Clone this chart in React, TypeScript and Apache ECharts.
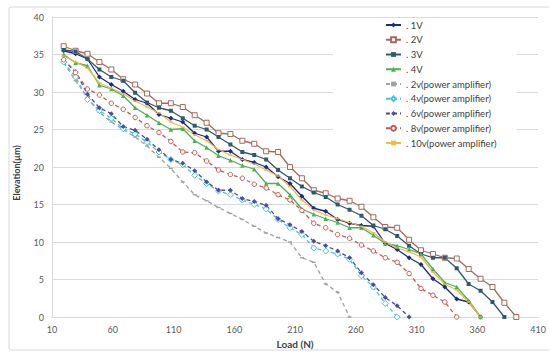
import React, { useEffect, useRef } from "react";
import * as echarts from "echarts";

const loads = [19.6, 29.4, 39.2, 49, 58.8, 68.6, 78.4, 88.2, 98, 107.8, 117.6, 127.4, 137.2, 147, 156.8, 166.6, 176.4, 186.2, 196, 205.8, 215.6, 225.4, 235.2, 245, 254.8, 264.6, 274.4, 284.2, 294, 303.8, 313.6, 323.4, 333.2, 343, 352.8, 362.6, 372.4, 382.2, 392];

const v1 = [35.5, 35.1, 34.4, 32.0, 31.0, 30.1, 29.0, 28.5, 27.0, 26.5, 26.0, 24.5, 24.0, 22.1, 22.1, 21.0, 20.6, 20.0, 18.7, 17.8, 16.1, 14.5, 14.1, 13.0, 12.5, 12.2, 12.1, 9.8, 9.0, 7.9, 7.0, 5.1, 4.0, 2.4, 2.0, 0];
const v2 = [36.1, 35.5, 35.1, 34.0, 33.0, 31.7, 31.0, 29.8, 28.5, 28.5, 28.0, 26.9, 25.9, 24.5, 24.4, 23.5, 23.1, 22.1, 22.0, 20.0, 18.5, 16.9, 16.5, 15.8, 15.5, 14.7, 13.3, 12.0, 11.9, 10.3, 8.9, 8.4, 7.9, 7.8, 6.4, 5.1, 4.0, 1.9, 0];
const v3 = [35.6, 35.4, 34.4, 33.0, 32.0, 31.5, 29.9, 28.6, 27.9, 27.5, 26.5, 25.5, 25.0, 24.0, 23.0, 22.0, 21.6, 21.0, 19.6, 18.5, 17.4, 16.6, 16.0, 15.0, 14.3, 13.5, 12.2, 11.7, 10.8, 9.5, 8.4, 7.9, 7.9, 6.5, 4.4, 3.5, 2.0, 0];
const v4 = [35.0, 33.9, 33.5, 30.9, 30.4, 29.5, 27.9, 26.9, 25.9, 25.0, 25.1, 23.5, 22.6, 21.5, 20.9, 20.2, 19.7, 17.8, 17.8, 16.3, 14.4, 13.7, 13.1, 12.6, 11.9, 11.9, 10.9, 9.8, 9.5, 9.0, 8.4, 6.4, 4.6, 4.0, 2.2, 0];
const pa2 = [33.9, 31.5, 29.3, 27.3, 26.0, 25.0, 24.0, 22.8, 21.3, 19.8, 18.0, 16.3, 15.5, 14.6, 13.8, 13.0, 12.1, 11.2, 10.6, 10.0, 7.9, 7.3, 4.4, 3.3, 0];
const pa4 = [34.0, 32.0, 29.0, 27.5, 26.5, 25.1, 24.4, 23.3, 22.0, 21.0, 20.3, 18.9, 17.8, 16.8, 16.3, 15.6, 15.0, 14.4, 13.0, 11.9, 11.0, 9.2, 8.8, 8.4, 7.7, 5.5, 4.0, 1.8, 0];
const pa6 = [34.3, 32.7, 29.7, 27.9, 27.1, 25.4, 24.9, 23.7, 22.3, 21.0, 20.5, 19.5, 18.0, 16.9, 16.9, 15.8, 15.4, 14.9, 13.1, 12.3, 11.4, 10.1, 9.5, 8.8, 7.9, 5.9, 4.3, 2.6, 1.5, 0];
const pa8 = [34.3, 32.6, 30.4, 29.6, 28.5, 27.7, 26.6, 25.5, 24.6, 23.4, 22.0, 21.9, 20.8, 19.6, 19.0, 18.5, 17.7, 17.2, 16.3, 15.6, 14.2, 12.5, 11.9, 11.0, 10.5, 9.6, 8.8, 7.9, 7.3, 5.8, 3.8, 2.9, 2.0, 0];
const pa10 = [34.8, 34.0, 33.2, 31.2, 30.5, 29.8, 28.8, 28.0, 27.2, 26.0, 25.3, 24.3, 23.5, 22.3, 21.6, 21.0, 20.4, 19.6, 18.8, 17.4, 15.6, 14.3, 13.6, 13.1, 12.6, 12.1, 11.2, 10.0, 9.2, 8.7, 8.0, 6.0, 4.4, 3.6, 2.0, 0];

const names = [". 1V", ". 2V", ". 3V", ". 4V", ". 2v(power amplifier)", ". 4v(power amplifier)", ". 6v(power amplifier)", ". 8v(power amplifier)", ". 10v(power amplifier)"];

export default function App() {
  const ref = useRef<HTMLDivElement>(null);
  useEffect(() => {
    const chart = echarts.init(ref.current!, null, { renderer: "svg" });
    const pair = (ys: number[]) => ys.map((y, i) => [loads[i], y]);
    const mk = (name: string, ys: number[], color: string, symbol: string, size: any, dashed: boolean, hollow: boolean) => ({
      name,
      type: "line",
      data: pair(ys),
      symbol,
      symbolSize: size,
      showSymbol: true,
      lineStyle: { color, width: 1.3, type: dashed ? [4, 3] : "solid" },
      itemStyle: hollow
        ? { color: "#ffffff", borderColor: color, borderWidth: 1 }
        : { color, borderColor: color, borderWidth: 0 },
      emphasis: { disabled: true },
    });
    const series = [
      mk(names[0], v1, "#1c2a8c", "diamond", 5, false, false),
      mk(names[1], v2, "#a66a5a", "rect", 5, false, true),
      mk(names[2], v3, "#2f5a6e", "rect", 4, false, false),
      mk(names[3], v4, "#4cb054", "triangle", 4.5, false, false),
      mk(names[4], pa2, "#a0a0a0", "rect", [4, 1.3], true, false),
      mk(names[5], pa4, "#45c1e6", "diamond", 6, true, true),
      mk(names[6], pa6, "#4a4f9e", "diamond", 5, true, false),
      mk(names[7], pa8, "#c45a55", "circle", 4.5, true, true),
      mk(names[8], pa10, "#f2b944", "rect", [4, 1.3], false, false),
    ];
    chart.setOption({
      animation: false,
      backgroundColor: "#ffffff",
      textStyle: { fontFamily: "Lato" },
      graphic: [
        {
          type: "rect",
          shape: { x: 9, y: 7, width: 545, height: 343, r: 2 },
          style: { fill: "none", stroke: "#d9d9d9", lineWidth: 1 },
          silent: true,
        },
      ],
      grid: { left: 52, top: 17, right: 4, bottom: 34 },
      legend: {
        orient: "vertical",
        left: 333,
        top: 18,
        padding: [1, 20, 4, 52],
        backgroundColor: "#ffffff",
        itemWidth: 15,
        itemHeight: 6,
        itemGap: 2.75,
        textStyle: { fontSize: 9.5, color: "#404040", fontFamily: "Lato", lineHeight: 12 },
        data: names,
      },
      xAxis: {
        type: "value",
        min: 10,
        max: 410,
        interval: 50,
        name: "Load (N)",
        nameLocation: "middle",
        nameGap: 22,
        nameTextStyle: { fontSize: 10, fontWeight: "bold", color: "#404040", fontFamily: "Lato" },
        axisLine: { show: true, lineStyle: { color: "#d9d9d9" } },
        axisTick: { show: false },
        splitLine: { show: false },
        axisLabel: { fontSize: 9, color: "#595959", margin: 8, fontFamily: "Lato" },
      },
      yAxis: {
        type: "value",
        min: 0,
        max: 40,
        interval: 5,
        name: "Elevation(µm)",
        nameLocation: "middle",
        nameGap: 31,
        nameTextStyle: { fontSize: 9, fontWeight: "bold", color: "#404040", fontFamily: "Lato", padding: [0, 12, 0, 0] },
        axisLine: { show: true, lineStyle: { color: "#d9d9d9" } },
        axisTick: { show: false },
        splitLine: { show: true, lineStyle: { color: "#d9d9d9" } },
        axisLabel: { fontSize: 9, color: "#595959", margin: 8, fontFamily: "Lato" },
      },
      series,
    });
    return () => chart.dispose();
  }, []);
  return <div ref={ref} style={{ position: "absolute", left: 0, top: 0, width: 549, height: 354 }} />;
}
